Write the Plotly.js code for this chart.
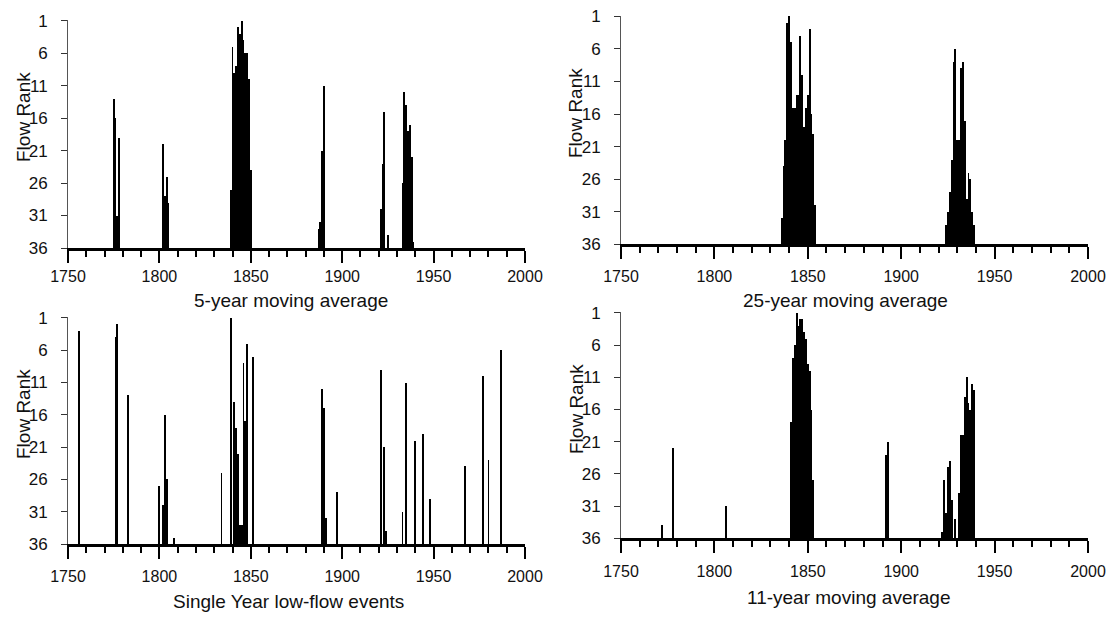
<!DOCTYPE html>
<html>
<head>
<meta charset="utf-8">
<script src="https://cdn.plot.ly/plotly-3.0.1.min.js"></script>
<style>
  html, body { margin: 0; padding: 0; background: #fff; }
  #chart { width: 1111px; height: 617px; }
</style>
</head>
<body>
<div id="chart"></div>
<script>
// ---- Data (years and flow ranks; rank 36 = baseline) ----
const yearRange = [1750, 2000];
const rankTicks = [1, 6, 11, 16, 21, 26, 31, 36];
const rankTickLabels = ["1", "6", "11", "16", "21", "26", "31", "36"];
const baseRank = 36;

// 5-year moving average
const years5 = [1775, 1776, 1777, 1778,
  1802, 1803, 1804, 1805,
  1839, 1840, 1841, 1842, 1843, 1844, 1845, 1846, 1847, 1848, 1849, 1850,
  1887, 1888, 1889, 1890,
  1921, 1922, 1923, 1925,
  1933, 1934, 1935, 1936, 1937, 1938, 1939];
const ranks5 = [13, 16, 31, 19,
  20, 28, 25, 29,
  27, 5, 9, 8, 2, 3, 1, 4, 6, 6, 10, 24,
  33, 32, 21, 11,
  30, 23, 15, 34,
  26, 12, 14, 18, 17, 22, 35];

// 25-year moving average
const years25 = [1836, 1837, 1838, 1839, 1840, 1841, 1842, 1843, 1844, 1845,
  1846, 1847, 1848, 1849, 1850, 1851, 1852, 1853, 1854,
  1924, 1925, 1926, 1927, 1928, 1929, 1930, 1931, 1932, 1933,
  1934, 1935, 1936, 1937, 1938, 1939];
const ranks25 = [32, 24, 20, 2, 1, 5, 15, 15, 13, 13,
  4, 10, 18, 15, 13, 3, 16, 19, 30,
  33, 31, 28, 23, 8, 6, 20, 20, 9, 8,
  17, 29, 25, 26, 31, 33];

// Single year low-flow events
const years1 = [1756, 1776, 1777, 1783, 1800, 1802, 1803, 1804, 1808, 1834,
  1839, 1841, 1842, 1843, 1844, 1845, 1846, 1847, 1848, 1851,
  1889, 1890, 1891, 1897, 1921, 1923, 1924, 1933, 1935, 1940,
  1944, 1948, 1967, 1977, 1980, 1987];
const ranks1 = [3, 4, 2, 13, 27, 30, 16, 26, 35, 25,
  1, 14, 18, 22, 33, 33, 8, 17, 5, 7,
  12, 15, 32, 28, 9, 21, 34, 31, 11, 20,
  19, 29, 24, 10, 23, 6];

// 11-year moving average
const years11 = [1772, 1778, 1806,
  1841, 1842, 1843, 1844, 1845, 1846, 1847, 1848, 1849, 1850, 1851, 1852, 1853,
  1892, 1893,
  1922, 1923, 1924, 1925, 1926, 1927, 1929,
  1931, 1932, 1933, 1934, 1935, 1936, 1937, 1938, 1939];
const ranks11 = [34, 22, 31,
  18, 8, 6, 1, 3, 2, 2, 4, 5, 9, 10, 16, 27,
  23, 21,
  35, 27, 32, 25, 24, 30, 33,
  29, 20, 20, 14, 11, 15, 16, 12, 13];

const panelTitles = ["5-year moving average", "25-year moving average",
  "Single Year low-flow events", "11-year moving average"];
const yTitle = "Flow Rank";

// ---- Layout helpers ----
const W = 1111, H = 617;
const FONT = "Liberation Sans, Arial, Helvetica, sans-serif";
const px = v => v / W;
const py = v => 1 - v / H;

function barTrace(years, ranks, xa, ya) {
  return {
    type: "bar",
    x: years,
    y: ranks.map(r => r - baseRank),
    base: baseRank,
    width: 1,
    marker: { color: "#000", line: { width: 0 } },
    xaxis: xa, yaxis: ya,
    hoverinfo: "skip",
    showlegend: false
  };
}

function xAx(x0, x1, anchor, standoff) {
  return {
    domain: [px(x0), px(x1)], anchor: anchor,
    range: yearRange, tickmode: "linear", tick0: 1750, dtick: 50,
    ticks: "outside", ticklen: 12, tickwidth: 2, tickcolor: "#000",
    showline: true, linecolor: "#000", linewidth: 3,
    showgrid: false, zeroline: false,
    tickfont: { family: FONT, size: 16, color: "#111" },
    ticklabelstandoff: standoff,
    minor: { tick0: 1750, dtick: 10, ticks: "outside", ticklen: 6, tickwidth: 2, tickcolor: "#000", showgrid: false },
    fixedrange: true
  };
}

function yAx(top, bottom, anchor) {
  return {
    domain: [py(bottom), py(top)], anchor: anchor,
    range: [baseRank, 0.9],
    tickmode: "array", tickvals: rankTicks, ticktext: rankTickLabels,
    ticks: "outside", ticklen: 6, tickwidth: 1, tickcolor: "#333",
    showline: true, linecolor: "#555", linewidth: 1,
    showgrid: false, zeroline: false,
    tickfont: { family: FONT, size: 17, color: "#111" },
    ticklabelstandoff: 10,
    fixedrange: true
  };
}

function textAnn(text, x, y, angle, size) {
  return {
    text: text, xref: "paper", yref: "paper", x: px(x), y: py(y),
    xanchor: "center", yanchor: "middle", showarrow: false,
    textangle: angle || 0,
    font: { family: FONT, size: size || 19, color: "#111" }
  };
}

const data = [
  barTrace(years5, ranks5, "x", "y"),
  barTrace(years25, ranks25, "x2", "y2"),
  barTrace(years1, ranks1, "x3", "y3"),
  barTrace(years11, ranks11, "x4", "y4")
];

const layout = {
  width: W, height: H,
  margin: { l: 0, r: 0, t: 0, b: 0 },
  paper_bgcolor: "#fff", plot_bgcolor: "#fff",
  bargap: 0, showlegend: false,
  font: { family: FONT, color: "#111" },
  xaxis: xAx(68, 525, "y", 0),
  yaxis: yAx(20, 248, "x"),
  xaxis2: xAx(621, 1088, "y2", 3),
  yaxis2: yAx(15.7, 244.3, "x2"),
  xaxis3: xAx(68, 525, "y3", 4),
  yaxis3: yAx(317.3, 544, "x3"),
  xaxis4: xAx(621, 1088, "y4", 4),
  yaxis4: yAx(312.3, 538.3, "x4"),
  annotations: [
    textAnn(yTitle, 23, 117, -90, 19),
    textAnn(yTitle, 576, 113, -90, 19),
    textAnn(yTitle, 23, 414, -90, 19),
    textAnn(yTitle, 576, 409, -90, 19),
    textAnn(panelTitles[0], 291, 300),
    textAnn(panelTitles[1], 845, 300),
    textAnn(panelTitles[2], 288, 601),
    textAnn(panelTitles[3], 848, 597)
  ]
};

Plotly.newPlot("chart", data, layout, { staticPlot: true, displayModeBar: false });
</script>
</body>
</html>
